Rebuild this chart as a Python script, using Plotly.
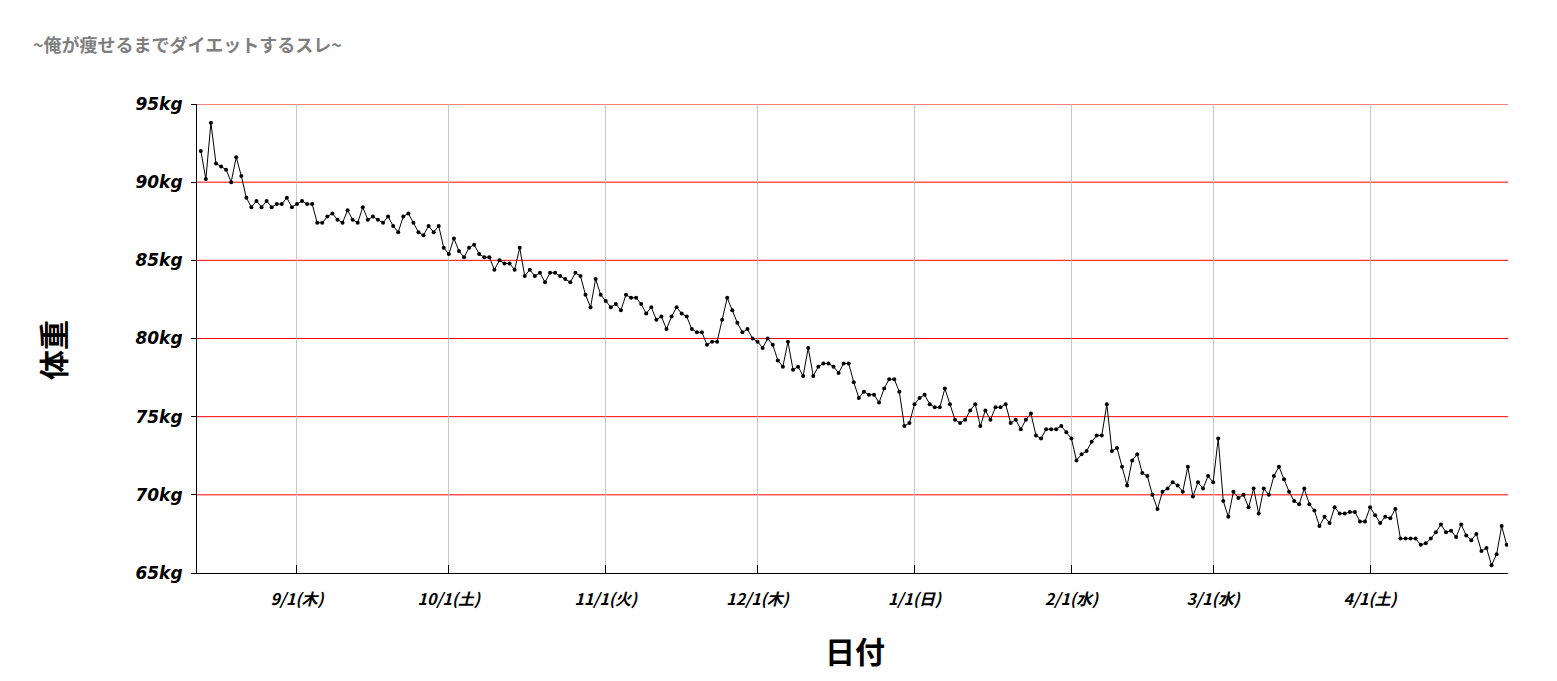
import plotly.graph_objects as go
import pandas as pd

start_date = "2022-08-13"
weights = [
    # Aug 13 - Aug 31
    92.0, 90.2, 93.8, 91.2, 91.0, 90.8, 90.0, 91.6, 90.4, 89.0,
    88.4, 88.8, 88.4, 88.8, 88.4, 88.6, 88.6, 89.0, 88.4,
    # Sep 1 - Sep 30
    88.6, 88.8, 88.6, 88.6, 87.4, 87.4, 87.8, 88.0, 87.6, 87.4,
    88.2, 87.6, 87.4, 88.4, 87.6, 87.8, 87.6, 87.4, 87.8, 87.2,
    86.8, 87.8, 88.0, 87.4, 86.8, 86.6, 87.2, 86.8, 87.2, 85.8,
    # Oct 1 - Oct 31
    85.4, 86.4, 85.6, 85.2, 85.8, 86.0, 85.4, 85.2, 85.2, 84.4,
    85.0, 84.8, 84.8, 84.4, 85.8, 84.0, 84.4, 84.0, 84.2, 83.6,
    84.2, 84.2, 84.0, 83.8, 83.6, 84.2, 84.0, 82.8, 82.0, 83.8,
    82.8,
    # Nov 1 - Nov 30
    82.4, 82.0, 82.2, 81.8, 82.8, 82.6, 82.6, 82.2, 81.6, 82.0,
    81.2, 81.4, 80.6, 81.4, 82.0, 81.6, 81.4, 80.6, 80.4, 80.4,
    79.6, 79.8, 79.8, 81.2, 82.6, 81.8, 81.0, 80.4, 80.6, 80.0,
    # Dec 1 - Dec 31
    79.8, 79.4, 80.0, 79.6, 78.6, 78.2, 79.8, 78.0, 78.2, 77.6,
    79.4, 77.6, 78.2, 78.4, 78.4, 78.2, 77.8, 78.4, 78.4, 77.2,
    76.2, 76.6, 76.4, 76.4, 75.9, 76.8, 77.4, 77.4, 76.6, 74.4,
    74.6,
    # Jan 1 - Jan 31
    75.8, 76.2, 76.4, 75.8, 75.6, 75.6, 76.8, 75.8, 74.8, 74.6,
    74.8, 75.4, 75.8, 74.4, 75.4, 74.8, 75.6, 75.6, 75.8, 74.6,
    74.8, 74.2, 74.8, 75.2, 73.8, 73.6, 74.2, 74.2, 74.2, 74.4,
    74.0,
    # Feb 1 - Feb 28
    73.6, 72.2, 72.6, 72.8, 73.4, 73.8, 73.8, 75.8, 72.8, 73.0,
    71.8, 70.6, 72.2, 72.6, 71.4, 71.2, 70.0, 69.1, 70.2, 70.4,
    70.8, 70.6, 70.2, 71.8, 69.9, 70.8, 70.4, 71.2,
    # Mar 1 - Mar 31
    70.8, 73.6, 69.6, 68.6, 70.2, 69.8, 70.0, 69.2, 70.4, 68.8,
    70.4, 70.0, 71.2, 71.8, 71.0, 70.2, 69.6, 69.4, 70.4, 69.4,
    69.0, 68.0, 68.6, 68.2, 69.2, 68.8, 68.8, 68.9, 68.9, 68.3,
    68.3,
    # Apr 1 - Apr 28
    69.2, 68.7, 68.2, 68.6, 68.5, 69.1, 67.2, 67.2, 67.2, 67.2,
    66.8, 66.9, 67.2, 67.6, 68.1, 67.6, 67.7, 67.3, 68.1, 67.4,
    67.1, 67.5, 66.4, 66.6, 65.5, 66.2, 68.0, 66.8,
]
dates = pd.date_range(start_date, periods=len(weights), freq="D")

tick_dates = ["2022-09-01", "2022-10-01", "2022-11-01", "2022-12-01",
              "2023-01-01", "2023-02-01", "2023-03-01", "2023-04-01"]
tick_labels = ["9/1(木)", "10/1(土)", "11/1(火)", "12/1(木)",
               "1/1(日)", "2/1(水)", "3/1(水)", "4/1(土)"]
y_ticks = [65, 70, 75, 80, 85, 90, 95]
y_labels = [f"{v}kg" for v in y_ticks]

title_text = "~俺が痩せるまでダイエットするスレ~"
x_title = "日付"
y_title = "体重"

fig = go.Figure()
fig.add_trace(go.Scatter(
    x=dates, y=weights, mode="lines+markers",
    line=dict(color="black", width=1),
    marker=dict(color="black", size=4),
    hoverinfo="x+y", showlegend=False,
))

# horizontal red grid lines
for v in y_ticks[1:]:
    fig.add_shape(type="line", xref="paper", x0=0, x1=1, yref="y", y0=v, y1=v,
                  line=dict(color="red", width=1), layer="below")

fig.add_annotation(text=y_title, xref="paper", yref="paper", x=-0.1106, y=0.4755,
                   xanchor="center", yanchor="middle", textangle=-90, showarrow=False,
                   font=dict(family="Noto Sans CJK JP", size=30, color="black", weight="bold"))
fig.add_annotation(text=x_title, xref="paper", yref="paper", x=0.502, y=-0.164,
                   xanchor="center", yanchor="middle", showarrow=False,
                   font=dict(family="Noto Sans CJK JP", size=30, color="black", weight="bold"))

fig.update_layout(
    width=1557, height=681,
    margin=dict(l=189, r=57, t=96, b=116),
    paper_bgcolor="white", plot_bgcolor="white",
    title=dict(text=title_text, x=0.016, xanchor="left", y=0.944, yanchor="middle",
               font=dict(family="Noto Sans CJK JP", size=18, color="#7f7f7f", weight="bold")),
    xaxis=dict(
        type="date",
        range=["2022-08-12 06:00", "2023-04-28 06:00"],
        tickvals=tick_dates, ticktext=tick_labels,
        tickfont=dict(family="Noto Sans CJK JP", size=16, color="black", weight="bold", style="italic"),
        ticks="inside", ticklen=8, tickcolor="black", tickwidth=1,
        ticklabelstandoff=12,
        showgrid=True, gridcolor="#c8c8c8", gridwidth=1,
        showline=True, linecolor="black", linewidth=1,
        zeroline=False,
    ),
    yaxis=dict(
        range=[65, 95],
        tickvals=y_ticks, ticktext=y_labels,
        tickfont=dict(family="DejaVu Sans", size=17, color="black", weight="bold", style="italic"),
        ticks="outside", ticklen=5, tickcolor="black",
        ticklabelstandoff=5,
        showgrid=False,
        showline=True, linecolor="black", linewidth=1,
        zeroline=False,
    ),
)

fig.write_html("out.html")
